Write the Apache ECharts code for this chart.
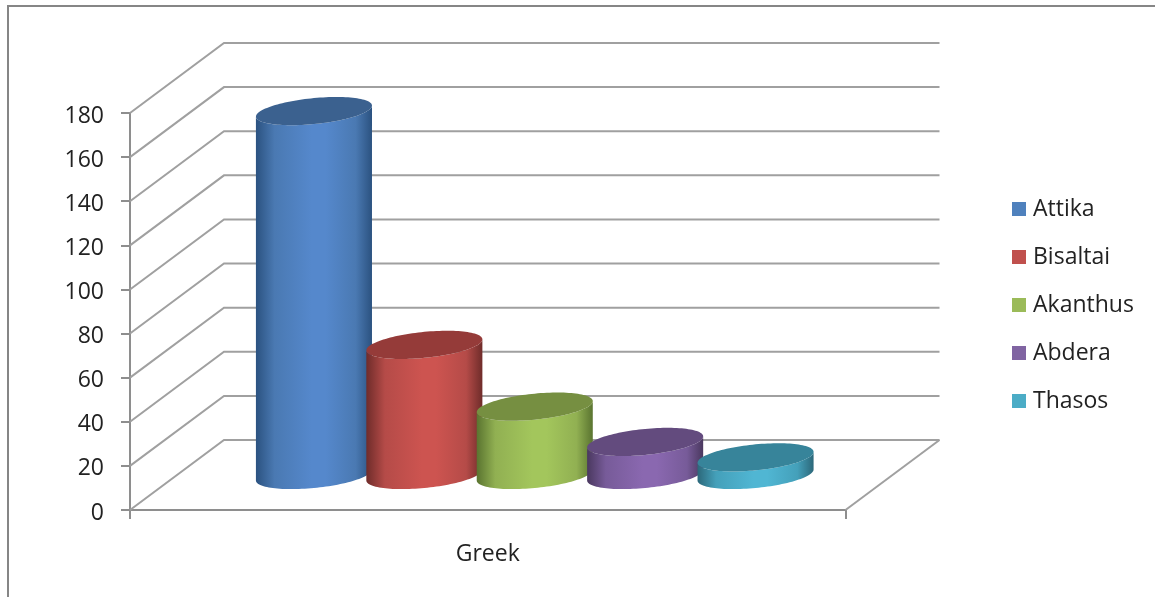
<!DOCTYPE html>
<html>
<head>
<meta charset="utf-8">
<style>html,body{margin:0;padding:0;background:#fff}#c{width:1155px;height:597px}</style>
<script src="https://cdn.jsdelivr.net/npm/echarts@6/dist/echarts.min.js"></script>
</head>
<body>
<div id="c"></div>
<script>
const categories = ['Greek'];
const seriesNames = ['Attika', 'Bisaltai', 'Akanthus', 'Abdera', 'Thasos'];
const seriesValues = [165, 59, 31, 15, 8];
const yTicks = [0, 20, 40, 60, 80, 100, 120, 140, 160, 180];

const baseColors = ['#4f81bd', '#c0504d', '#9bbb59', '#8064a2', '#4bacc6'];
const topColors = ['#3b618f', '#953b39', '#768f41', '#634b7e', '#37849a'];
const lightColors = ['#5588cc', '#cd5450', '#a3c65c', '#8a68b0', '#50b6d3'];
const midColors = ['#4a79b2', '#b54b48', '#91b052', '#775b99', '#44a0ba'];
const edgeColors = ['#2b5280', '#6f2c2a', '#5a7430', '#4a385f', '#2c687a'];

const DEPTH_X = 94, DEPTH_Y = 70;
const GRID_COLOR = '#a0a0a0', AXIS_COLOR = '#8e8e8e', FONT = '"Open Sans"';

function renderWall(params, api) {
  const v = api.value(0);
  const band = api.size([1, 0])[0];
  const p = api.coord([0, v]);
  const left = p[0] - band / 2, right = p[0] + band / 2, y = p[1];
  const style = { stroke: GRID_COLOR, lineWidth: 2, fill: null };
  const children = [{
    type: 'polyline',
    shape: { points: [[left, y], [left + DEPTH_X, y - DEPTH_Y], [right + DEPTH_X, y - DEPTH_Y]] },
    style
  }];
  if (v === 0) {
    children.push({
      type: 'line',
      shape: { x1: right, y1: y, x2: right + DEPTH_X, y2: y - DEPTH_Y },
      style
    });
  }
  return { type: 'group', children };
}

function cylinderRenderer(i) {
  return function (params, api) {
    const band = api.size([1, 0])[0];
    const top = api.coord([0, api.value(0)]);
    const base = api.coord([0, 0]);
    const a = band * 0.0811;
    const b = 13;
    const shear = 5.5 / a;
    const cx = top[0] + DEPTH_X / 2 + (i - 2) * band * 0.1543;
    const topY = top[1] - DEPTH_Y / 2;
    const baseY = base[1] - DEPTH_Y / 2;
    const arc = (cy, from, to, n) => {
      const pts = [];
      for (let k = 0; k <= n; k++) {
        const t = from + (to - from) * k / n;
        const dx = a * Math.cos(t);
        pts.push([cx + dx, cy - shear * dx + b * Math.sin(t)]);
      }
      return pts;
    };
    const body = arc(baseY, 0, Math.PI, 60).concat(arc(topY, Math.PI, 0, 60));
    const lid = arc(topY, 0, Math.PI * 2, 120);
    const fill = new echarts.graphic.LinearGradient(0, 0, 1, 0, [
      { offset: 0, color: edgeColors[i] },
      { offset: 0.16, color: midColors[i] },
      { offset: 0.48, color: lightColors[i] },
      { offset: 0.6, color: lightColors[i] },
      { offset: 0.86, color: midColors[i] },
      { offset: 1, color: edgeColors[i] }
    ]);
    return {
      type: 'group',
      children: [
        { type: 'polygon', shape: { points: body }, style: { fill } },
        { type: 'polygon', shape: { points: lid }, style: { fill: topColors[i] } }
      ]
    };
  };
}

const series = [{
  type: 'custom',
  name: 'walls',
  silent: true,
  z: 1,
  renderItem: renderWall,
  encode: { x: 1, y: 0 },
  data: yTicks.map(t => [t, 0])
}];
seriesNames.forEach((name, i) => {
  series.push({
    type: 'custom',
    name,
    z: 2 + i,
    itemStyle: { color: baseColors[i] },
    renderItem: cylinderRenderer(i),
    encode: { x: 1, y: 0 },
    data: [[seriesValues[i], 0]]
  });
});

const chart = echarts.init(document.getElementById('c'), null, { renderer: 'canvas' });
chart.setOption({
  animation: false,
  backgroundColor: '#ffffff',
  grid: { left: 130, right: 309.5, top: 113, bottom: 87 },
  graphic: [
    { type: 'polyline', silent: true, z: 0,
      shape: { points: [[8, 597], [8, 6], [1155, 6]] },
      style: { stroke: '#868686', lineWidth: 2, fill: null } }
  ],
  legend: {
    data: seriesNames,
    orient: 'vertical',
    left: 1007,
    top: 190,
    icon: 'rect',
    itemWidth: 14,
    itemHeight: 14,
    itemGap: 20,
    textStyle: { fontFamily: FONT, fontSize: 23, color: '#222', padding: [0, 0, 0, 2], height: 28, lineHeight: 28 }
  },
  xAxis: {
    type: 'category',
    data: categories,
    axisLine: { lineStyle: { color: AXIS_COLOR, width: 2 } },
    axisTick: { show: true, interval: 0, length: 9, lineStyle: { color: AXIS_COLOR, width: 2 } },
    axisLabel: { fontFamily: FONT, fontSize: 23, color: '#222', margin: 33 }
  },
  yAxis: {
    type: 'value',
    min: 0,
    max: 180,
    interval: 20,
    splitLine: { show: false },
    axisLine: { show: true, lineStyle: { color: AXIS_COLOR, width: 2 } },
    axisTick: { show: true, length: 9, lineStyle: { color: AXIS_COLOR, width: 2 } },
    axisLabel: {
      margin: 26,
      formatter: '{t|{value}}',
      rich: { t: { fontFamily: FONT, fontSize: 23, color: '#222', padding: [6, 0, 0, 0] } }
    }
  },
  series
});
</script>
</body>
</html>
